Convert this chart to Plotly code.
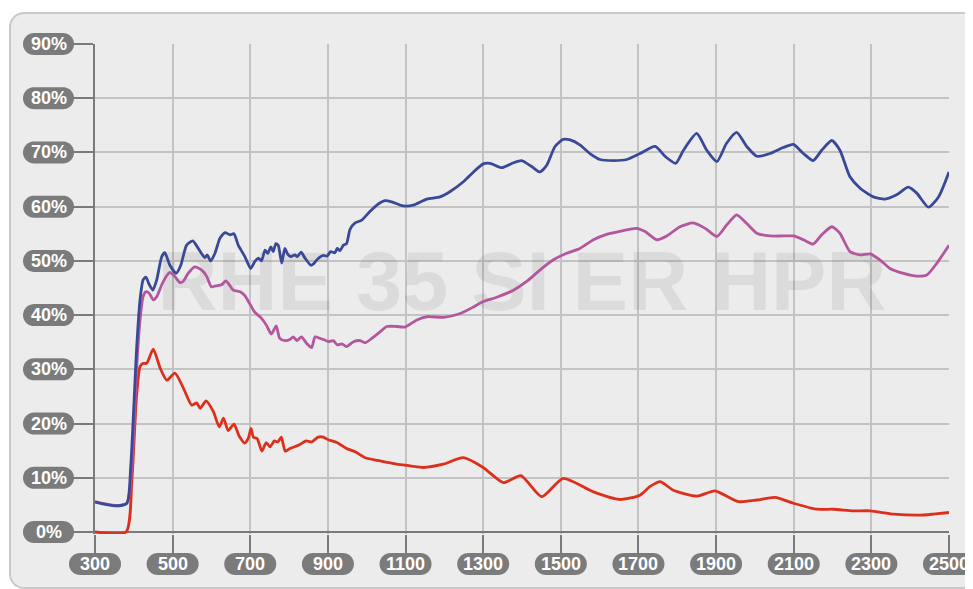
import math
import plotly.graph_objects as go

# wavelength (nm) and transmittance (%)
red_nm = [300, 380, 395, 407, 416, 424, 433, 450, 468, 485, 506, 528, 549, 562, 571, 586,
          605, 620, 631, 643, 658, 672, 686, 695, 702, 708, 718, 730, 741, 751, 762, 771,
          780, 790, 802, 824, 844, 858, 875, 888, 901, 923, 948, 970, 996, 1034, 1077,
          1112, 1146, 1197, 1249, 1300, 1352, 1397, 1451, 1506, 1584, 1652, 1704, 1730,
          1756, 1790, 1850, 1897, 1957, 2005, 2052, 2099, 2159, 2202, 2253, 2297, 2357,
          2425, 2460, 2500]
red_val = [0, 0, 9.6, 25, 30.5, 31.1, 31.1, 33.7, 30.2, 28.0, 29.3, 26.5, 23.4, 23.8, 22.8, 24.2,
           22.2, 19.4, 21.0, 18.7, 19.9, 17.6, 16.4, 17.3, 19.1, 17.5, 17.2, 14.9, 16.5, 15.7, 16.8, 16.6,
           17.5, 14.9, 15.4, 16.0, 16.8, 16.6, 17.5, 17.5, 17.0, 16.5, 15.4, 14.8, 13.7, 13.1, 12.5,
           12.2, 11.9, 12.5, 13.7, 11.9, 9.1, 10.4, 6.5, 9.9, 7.4, 6.0, 6.8, 8.4,
           9.3, 7.7, 6.6, 7.6, 5.6, 5.9, 6.4, 5.3, 4.2, 4.2, 3.9, 3.9, 3.3,
           3.1, 3.3, 3.6]

blue_nm = [300, 352, 382, 392, 407, 416, 424, 431, 440, 449, 459, 472, 480, 493, 509, 521,
           536, 552, 566, 583, 589, 598, 609, 622, 635, 648, 658, 669, 686, 701, 712, 721,
           729, 738, 745, 753, 759, 766, 772, 781, 789, 796, 804, 815, 821, 831, 841, 856,
           862, 873, 888, 898, 907, 918, 924, 931, 940, 948, 957, 970, 987, 1004, 1026,
           1047, 1064, 1086, 1099, 1120, 1155, 1189, 1215, 1249, 1275, 1300, 1318, 1348,
           1378, 1399, 1425, 1446, 1464, 1485, 1506, 1524, 1549, 1575, 1601, 1635, 1670,
           1704, 1743, 1770, 1796, 1816, 1850, 1876, 1902, 1927, 1953, 1979, 2005, 2039,
           2073, 2099, 2125, 2150, 2172, 2198, 2219, 2245, 2271, 2305, 2335, 2365, 2395,
           2417, 2447, 2473, 2500]
blue_val = [5.5, 4.8, 5.3, 12, 33.6, 42.8, 46.5, 47.0, 45.6, 44.6, 46.5, 50.8, 51.5, 49.2, 47.7, 49.2,
            52.9, 53.7, 52.3, 50.6, 51.1, 50.0, 51.4, 54.2, 55.2, 54.8, 55.0, 52.9, 50.8, 48.6, 49.9, 50.5,
            50.0, 52.0, 51.4, 52.6, 51.7, 53.2, 52.9, 49.6, 52.3, 51.3, 50.8, 51.1, 50.8, 51.6, 50.5, 49.2,
            49.4, 50.3, 51.0, 50.9, 51.7, 51.5, 52.3, 51.9, 52.9, 53.2, 55.8, 57.0, 57.5, 58.8, 60.3,
            61.1, 60.9, 60.3, 60.1, 60.3, 61.4, 61.8, 62.8, 64.6, 66.4, 67.9, 68.0, 67.2,
            68.1, 68.5, 67.4, 66.4, 67.7, 71.1, 72.4, 72.3, 71.4, 69.8, 68.7, 68.5, 68.7,
            69.8, 71.1, 69.2, 68.0, 70.4, 73.5, 70.4, 68.3, 71.7, 73.7, 71.1, 69.3, 69.8,
            70.9, 71.5, 69.8, 68.5, 70.4, 72.2, 70.4, 65.5, 63.4, 61.8, 61.4, 62.2, 63.6,
            62.5, 59.9, 61.8, 66.4]

pink_nm = [300, 352, 382, 395, 407, 416, 424, 431, 440, 450, 459, 472, 486, 493, 506, 519,
           527, 540, 557, 575, 588, 600, 611, 626, 637, 646, 656, 674, 686, 700, 711, 729,
           741, 754, 761, 767, 776, 789, 802, 811, 820, 832, 845, 858, 867, 880, 892, 901,
           914, 924, 936, 948, 966, 983, 996, 1013, 1034, 1052, 1077, 1099, 1129, 1155,
           1198, 1241, 1275, 1300, 1335, 1378, 1412, 1446, 1481, 1515, 1549, 1584, 1618,
           1661, 1695, 1717, 1747, 1773, 1807, 1841, 1872, 1902, 1927, 1953, 1979, 2005,
           2039, 2073, 2099, 2125, 2150, 2172, 2198, 2219, 2245, 2271, 2297, 2322, 2348,
           2383, 2417, 2443, 2469, 2500]
pink_val = [5.6, 4.9, 5.3, 12, 30, 39.1, 43.4, 44.3, 44.0, 42.8, 43.4, 45.6, 47.4, 47.9, 47.1, 46.0,
            46.2, 47.7, 48.9, 48.3, 47.1, 45.2, 45.4, 45.6, 46.3, 45.6, 44.6, 44.3, 43.6, 41.9, 40.6, 39.4,
            38.2, 36.5, 37.3, 38.0, 35.7, 35.3, 35.5, 36.0, 35.3, 36.0, 34.8, 34.0, 36.0, 35.7, 35.4, 35.1,
            35.3, 34.5, 34.7, 34.2, 35.1, 35.3, 34.9, 35.7, 36.9, 37.9, 37.9, 37.8, 39.1, 39.7,
            39.6, 40.3, 41.5, 42.5, 43.3, 44.6, 46.2, 48.3, 50.2, 51.4, 52.3, 53.9, 54.9,
            55.6, 56.0, 55.4, 53.9, 54.6, 56.3, 57.0, 56.0, 54.5, 56.6, 58.5, 56.9, 55.1,
            54.6, 54.6, 54.6, 53.9, 53.1, 54.8, 56.3, 55.1, 51.7, 51.1, 51.3, 50.2, 48.6,
            47.7, 47.2, 47.4, 49.6, 52.9]

x_ticks = [300, 500, 700, 900, 1100, 1300, 1500, 1700, 1900, 2100, 2300, 2500]
y_ticks = [0, 10, 20, 30, 40, 50, 60, 70, 80, 90]
watermark = "RHE 35 SI ER HPR"

# the page body adds an 8px margin, so the figure is sized/placed to land on screen pixels
OFF = 8
W, H = 965, 581
L, T, PW, PH = 87, 36, 854, 490   # 2px of room below 0% so the red baseline isn't clipped
R, B = W - L - PW, H - T - PH
YPX = 488 / 90                    # screen px per percent
LABEL_FONT = "Liberation Sans Narrow, Liberation Sans, Arial, sans-serif"


def px2paper(px, py):
    """screen pixel -> paper coords"""
    return (px - OFF - L) / PW, (T + PH - (py - OFF)) / PH


def rounded_path(x0, y0, x1, y1, r, n=10):
    """Rounded rectangle in screen pixels -> svg path in paper coords."""
    pts = []
    corners = [(x1 - r, y0 + r, -90), (x1 - r, y1 - r, 0), (x0 + r, y1 - r, 90), (x0 + r, y0 + r, 180)]
    for cx, cy, a0 in corners:
        for i in range(n + 1):
            a = math.radians(a0 + 90 * i / n)
            pts.append(px2paper(cx + r * math.cos(a), cy + r * math.sin(a)))
    return "M " + " L ".join(f"{x:.5f},{y:.5f}" for x, y in pts) + " Z"


fig = go.Figure()

# watermark behind the curves
fig.add_trace(go.Scatter(
    x=[1400], y=[44.7], mode="text", text=[watermark],
    textfont=dict(family="Liberation Sans, Arial, sans-serif", size=83, color="rgba(0,0,0,0.07)",
                  weight="bold"),
    hoverinfo="skip", showlegend=False))

for xs, ys, col in [(red_nm, red_val, "#dc2f1c"),
                    (pink_nm, pink_val, "#b3569d"),
                    (blue_nm, blue_val, "#394897")]:
    fig.add_trace(go.Scatter(x=xs, y=ys, mode="lines",
                             line=dict(color=col, width=2.8, shape="spline", smoothing=0.6),
                             hoverinfo="skip", showlegend=False))

shapes = [dict(type="path", xref="paper", yref="paper", layer="below",
               path=rounded_path(10, 13, 1000, 588, 14),
               fillcolor="#ececec", line=dict(color="#c9c9c9", width=2))]
annotations = []
pill = "#7b7b7b"
label_font = dict(family=LABEL_FONT, size=18, color="white", weight="bold")

for v in y_ticks:
    py = 532 - v * YPX
    shapes.append(dict(type="path", xref="paper", yref="paper", layer="above",
                       path=rounded_path(23, py - 11, 74, py + 11, 11), fillcolor=pill,
                       line=dict(width=0)))
    x, y = px2paper(48.5, py)
    annotations.append(dict(x=x, y=y, xref="paper", yref="paper", text=f"{v}%", showarrow=False,
                            xanchor="center", yanchor="middle", font=label_font))

for v in x_ticks:
    px = 95 + (v - 300) / 2200 * PW
    shapes.append(dict(type="path", xref="paper", yref="paper", layer="above",
                       path=rounded_path(px - 26, 553, px + 26, 575, 11), fillcolor=pill,
                       line=dict(width=0)))
    x, y = px2paper(px, 564)
    annotations.append(dict(x=x, y=y, xref="paper", yref="paper", text=str(v), showarrow=False,
                            xanchor="center", yanchor="middle", font=label_font))

fig.update_layout(
    width=W, height=H,
    margin=dict(l=L, r=R, t=T, b=B),
    paper_bgcolor="white", plot_bgcolor="rgba(0,0,0,0)",
    shapes=shapes, annotations=annotations,
    xaxis=dict(range=[300, 2500], tickvals=x_ticks, showticklabels=False,
               ticks="outside", ticklen=19, tickwidth=2, tickcolor="#7a7a7a",
               showgrid=True, gridcolor="#c3c3c3", gridwidth=2, zeroline=False,
               showline=False, layer="below traces"),
    yaxis=dict(range=[-2 / YPX, 90], tickvals=y_ticks, showticklabels=False,
               ticks="outside", ticklen=21, tickwidth=2, tickcolor="#7a7a7a",
               showgrid=True, gridcolor="#c3c3c3", gridwidth=2,
               zeroline=True, zerolinecolor="#7a7a7a", zerolinewidth=2,
               showline=True, linecolor="#7a7a7a", linewidth=2, layer="below traces"),
)

fig.write_html("out.html")
